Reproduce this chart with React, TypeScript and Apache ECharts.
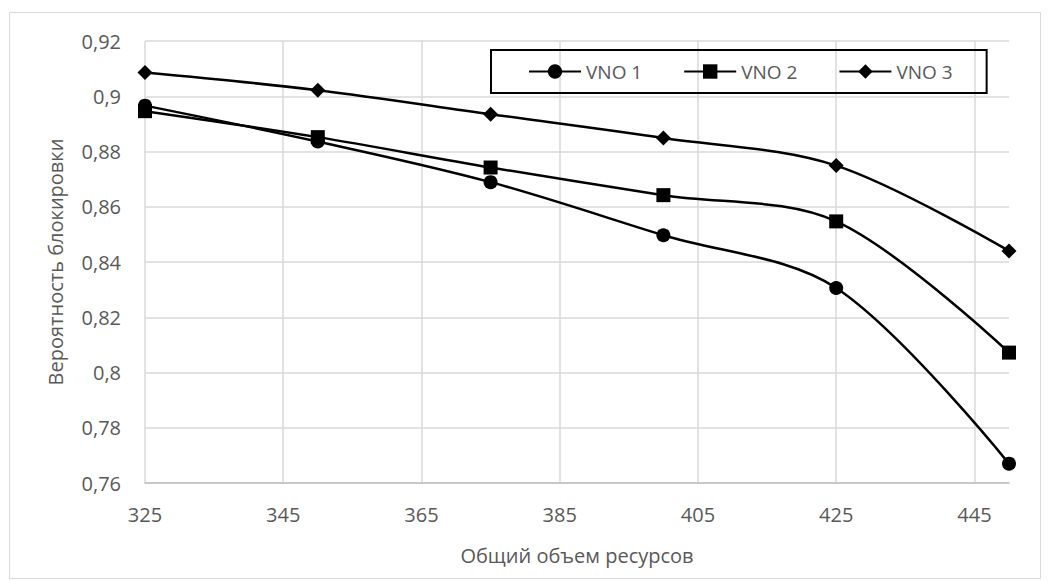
import React, { useEffect, useRef } from "react";
import * as echarts from "echarts";

const xValues = [325, 350, 375, 400, 425, 450];
const vno1 = [0.8966, 0.8836, 0.8689, 0.8497, 0.8306, 0.767];
const vno2 = [0.8946, 0.8852, 0.8742, 0.8642, 0.8547, 0.8072];
const vno3 = [0.9086, 0.9022, 0.8935, 0.8849, 0.8749, 0.844];
const seriesNames = ["VNO 1", "VNO 2", "VNO 3"];
const seriesSymbols = ["circle", "rect", "diamond"];
const xAxisStart = 325; // first x tick label
const xAxisEnd = 450;
const xTickStep = 20;
const yMin = 0.76;
const yMax = 0.92;
const yStep = 0.02;

const FONT = "'Open Sans', sans-serif";
const TEXT = "#595959";

export default function App() {
  const ref = useRef<HTMLDivElement>(null);
  useEffect(() => {
    if (!ref.current) return;
    const chart = echarts.init(ref.current, undefined, { renderer: "svg" });
    const all = [vno1, vno2, vno3];
    const symbolSizes = [14, 14, 15];
    const series = all.map((vals, i) => ({
      name: seriesNames[i],
      type: "line",
      data: vals.map((v, j) => [xValues[j] - xAxisStart, v]),
      smooth: 0.33,
      symbol: seriesSymbols[i],
      symbolSize: symbolSizes[i],
      showAllSymbol: true,
      lineStyle: { color: "#000", width: 2.5 },
      itemStyle: { color: "#000" },
      z: 3 + i,
    }));
    chart.setOption({
      animation: false,
      textStyle: { fontFamily: FONT },
      graphic: [
        {
          type: "rect",
          shape: { x: 9.5, y: 12.5, width: 1031, height: 566 },
          style: { fill: "none", stroke: "#d9d9d9", lineWidth: 1 },
          silent: true,
          z: -1,
        },
      ],
      grid: { left: 145, right: 40, top: 41, bottom: 98, containLabel: false },
      legend: {
        left: 491,
        top: 50,
        orient: "horizontal",
        padding: [12, 34, 12, 37],
        borderColor: "#000",
        borderWidth: 2,
        itemWidth: 52,
        itemHeight: 18,
        itemGap: 41,
        data: seriesNames,
        textStyle: { color: TEXT, fontSize: 19, fontFamily: FONT },
      },
      xAxis: {
        type: "value",
        min: 0,
        max: xAxisEnd - xAxisStart,
        interval: xTickStep,
        name: "Общий объем ресурсов",
        nameLocation: "middle",
        nameGap: 62,
        nameTextStyle: { color: TEXT, fontSize: 20, fontFamily: FONT },
        axisLine: { show: true, lineStyle: { color: "#bfbfbf", width: 1.5 } },
        axisTick: { show: false },
        axisLabel: {
          color: TEXT,
          fontSize: 20,
          margin: 21,
          showMaxLabel: false,
          formatter: (v: number) => String(v + xAxisStart),
        },
        splitLine: {
          show: true,
          showMaxLine: false,
          lineStyle: { color: "#d9d9d9", width: 1.5 },
        },
      },
      yAxis: {
        type: "value",
        min: yMin,
        max: yMax,
        interval: yStep,
        name: "Вероятность блокировки",
        nameLocation: "middle",
        nameGap: 80,
        nameTextStyle: { color: TEXT, fontSize: 20, fontFamily: FONT },
        axisLine: { show: false },
        axisTick: { show: false },
        axisLabel: {
          color: TEXT,
          fontSize: 20,
          margin: 24,
          formatter: (v: number) => String(parseFloat(v.toFixed(2))).replace(".", ","),
        },
        splitLine: { show: true, lineStyle: { color: "#d9d9d9", width: 1.5 } },
      },
      series,
    });
    return () => chart.dispose();
  }, []);
  return (
    <div
      ref={ref}
      style={{ position: "absolute", left: 0, top: 0, width: 1049, height: 581, background: "#fff" }}
    />
  );
}
